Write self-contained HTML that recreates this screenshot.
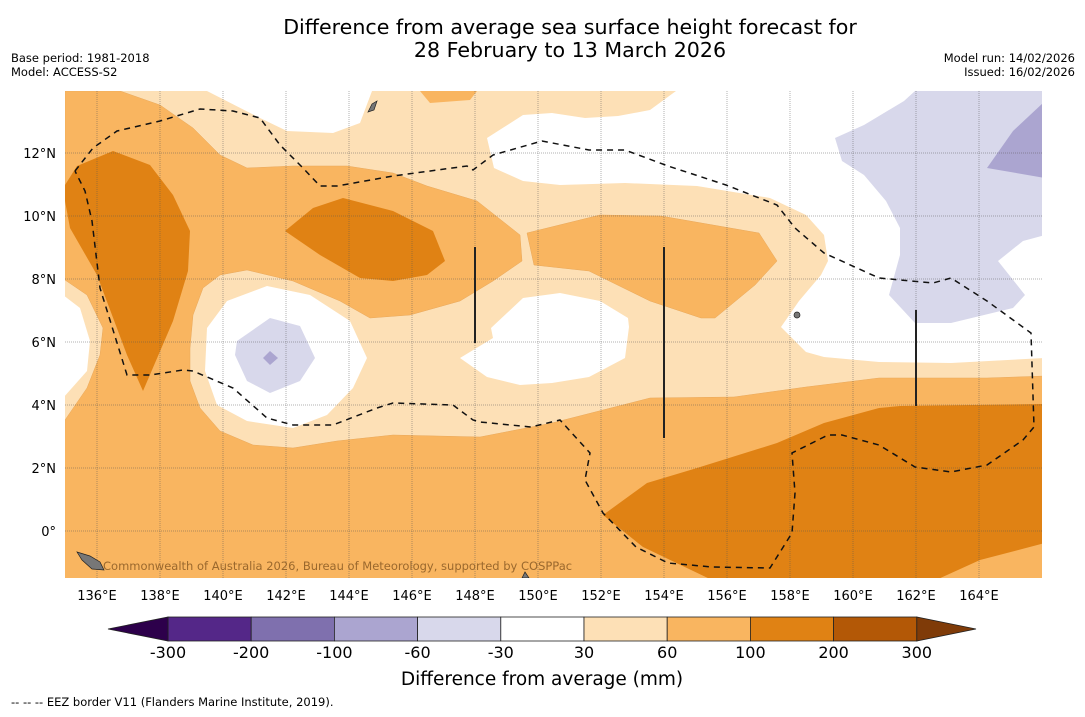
<!DOCTYPE html>
<html><head><meta charset="utf-8"><style>
body{margin:0;background:#fff;width:1085px;height:713px;overflow:hidden;font-family:"DejaVu Sans",sans-serif}
svg text{font-family:"DejaVu Sans","Liberation Sans",sans-serif}
</style></head><body>
<svg id="chart" width="1085" height="713" viewBox="0 0 1085 713">
<rect width="1085" height="713" fill="#fff"/>
<text x="570" y="34" text-anchor="middle" font-size="20.6">Difference from average sea surface height forecast for</text>
<text x="570" y="57" text-anchor="middle" font-size="20.6">28 February to 13 March 2026</text>
<text x="11" y="62" font-size="11.5">Base period: 1981-2018</text>
<text x="11" y="76" font-size="11.5">Model: ACCESS-S2</text>
<text x="1075" y="62" font-size="11.5" text-anchor="end">Model run: 14/02/2026</text>
<text x="1075" y="76" font-size="11.5" text-anchor="end">Issued: 16/02/2026</text>
<defs><clipPath id="mc"><rect x="65" y="91" width="977" height="487"/></clipPath></defs>
<g clip-path="url(#mc)">
<rect x="65" y="91" width="977" height="487" fill="#fde0b6"/>
<polygon fill="#f9b560" stroke="#e9a85a" stroke-width="0.5" points="65,91 120,91 160,105 193,128 220,155 247,168 293,166 347,166 393,173 427,186 477,201 520,235 522,261 493,281 460,301 410,315 370,318 340,301 293,281 247,270 220,275 203,288 193,315 190,348 190,381 200,408 220,431 253,445 293,448 337,441 393,435 480,437 552,423 650,398 734,397 806,387 879,378 987,378 1045,376 1045,580 63,580 65,420 87,388 100,355 103,328 87,295 65,280"/>
<polygon fill="#f9b560" points="420,91 477,91 470,100 430,103"/>
<polygon fill="#f9b560" stroke="#e9a85a" stroke-width="0.5" points="527,233 600,215 661,216 759,233 777,261 755,285 715,318 701,318 650,301 589,271 534,265"/>
<polygon fill="#fff" points="63,295 80,308 90,341 87,371 63,398"/>
<polygon fill="#fff" points="207,91 260,118 287,131 333,133 360,123 372,91"/>
<polygon fill="#fff" points="676,91 1045,91 1045,358 951,363 879,362 824,357 806,352 781,327 799,301 821,275 828,261 824,235 806,215 770,198 697,186 625,183 560,185 523,181 494,168 487,138 523,115 552,113 585,118 618,116 650,110"/>
<polygon fill="#fff" points="491,328 523,298 560,293 600,301 628,318 629,327 625,358 589,377 552,383 520,385 487,377 460,358 493,338"/>
<polygon fill="#fff" points="207,328 227,301 267,286 310,295 350,321 367,358 353,388 327,415 293,428 247,421 217,405 205,371"/>
<polygon fill="#d8d8eb" points="237,341 270,318 300,326 315,358 300,381 270,393 247,381 235,355"/>
<polygon fill="#aba5d0" points="270,351 278,358 270,365 263,358"/>
<polygon fill="#d8d8eb" points="835,138 864,125 904,101 915,91 1045,91 1045,235 1023,241 998,261 1025,295 1013,308 951,323 915,323 889,295 900,255 900,228 886,201 864,175 842,161"/>
<polygon fill="#aba5d0" points="987,168 1013,131 1045,101 1045,178"/>
<polygon fill="#e08214" points="65,185 77,166 113,151 150,165 173,195 190,231 188,271 173,321 143,391 127,355 97,275 70,228 65,201"/>
<polygon fill="#e08214" points="285,231 313,208 343,198 393,211 433,231 445,261 427,275 393,281 360,278 320,255"/>
<polygon fill="#e08214" points="603,515 647,483 697,468 777,443 824,423 879,408 900,406 1045,404 1045,543 980,560 936,580 712,580 643,547"/>
<g id="grid"></g>
<polyline fill="none" stroke="#111" stroke-width="1.5" stroke-dasharray="6,5" points="75,171 93,148 117,131 160,121 200,109 233,111 260,118 280,145 303,168 320,186 337,186 393,176 467,166 473,170 493,155 542,141 589,150 625,150 668,166 726,185 777,205 795,228 824,253 879,278 933,283 951,278 987,301 1031,333 1034,427 1023,440 987,465 951,472 915,467 879,445 842,435 828,435 792,453 795,493 792,533 770,568 712,567 668,563 636,547 603,513 585,480 590,453 560,420 531,427 480,422 473,420 453,405 393,403 377,408 333,425 293,425 267,418 233,388 193,371 183,370 150,375 127,375 100,288 92,221 85,191 75,171"/>
<g stroke="#222" stroke-width="2">
<line x1="475" y1="247" x2="475" y2="343"/><line x1="664" y1="247" x2="664" y2="438"/><line x1="916" y1="310" x2="916" y2="406"/></g>
<g fill="#777" stroke="#222" stroke-width="0.7">
<polygon points="368,112 372,104 377,101 374,110"/><polygon points="77,552 90,556 100,562 104,570 92,569 82,560"/><circle cx="797" cy="315" r="3"/><polygon points="522,578 525,572 529,578"/></g>
<text x="103" y="570" font-size="11.5" fill="#8a5a25" fill-opacity="0.85">Commonwealth of Australia 2026, Bureau of Meteorology, supported by COSPPac</text>
</g>
<g id="axes"></g>
<g id="cbar"></g>
<text x="542" y="685" text-anchor="middle" font-size="18.5">Difference from average (mm)</text>
<text x="11" y="706" font-size="11.5">--  --  -- EEZ border V11 (Flanders Marine Institute, 2019).</text>
</svg>
<script>
const lonTicks=[136,138,140,142,144,146,148,150,152,154,156,158,160,162,164];
const latTicks=[12,10,8,6,4,2,0];
const cbBounds=[-300,-200,-100,-60,-30,30,60,100,200,300];
const cbColors=["#542788","#7f70ae","#aba5d0","#d8d8eb","#ffffff","#fde0b6","#f9b560","#e08214","#b35806"];
const cbLeftColor="#2d004b", cbRightColor="#7f3b08";
const NS="http://www.w3.org/2000/svg";
function lonX(l){return 97+(l-136)*31.5;}
function latY(l){return 531-l*31.5;}
function mk(tag,attrs,parent){const e=document.createElementNS(NS,tag);for(const k in attrs)e.setAttribute(k,attrs[k]);parent.appendChild(e);return e;}
const grid=document.getElementById('grid'),axes=document.getElementById('axes'),cb=document.getElementById('cbar');
lonTicks.forEach(l=>{const x=lonX(l);
 const g=mk('line',{x1:x,y1:91,x2:x,y2:578,stroke:"#555","stroke-opacity":0.45,"stroke-width":1,"stroke-dasharray":"1,1"},grid);
 
 
 const t=mk('text',{x:x,y:600,"text-anchor":"middle","font-size":13},axes);t.textContent=l+"°E";
 
 
});
latTicks.forEach(l=>{const y=latY(l);
 const g=mk('line',{x1:65,y1:y,x2:1042,y2:y,stroke:"#555","stroke-opacity":0.45,"stroke-width":1,"stroke-dasharray":"1,1"},grid);
 
 
 const t=mk('text',{x:56,y:y+5,"text-anchor":"end","font-size":13},axes);t.textContent=l===0?"0°":l+"°N";
 
 
});
const cbX0=168,cbW=83.2,cbY=617,cbH=24;
cbColors.forEach((c,i)=>{
 const r=mk('rect',{x:cbX0+i*cbW,y:cbY,width:cbW,height:cbH,fill:c,stroke:"#222","stroke-width":0.8},cb);
 
 
});
const cbEnd=cbX0+cbColors.length*cbW;
const lt=mk('polygon',{points:`${cbX0},${cbY} ${cbX0},${cbY+cbH} 108,${cbY+cbH/2}`,fill:cbLeftColor,stroke:"#222","stroke-width":0.8},cb);


const rt=mk('polygon',{points:`${cbEnd},${cbY} ${cbEnd},${cbY+cbH} 976,${cbY+cbH/2}`,fill:cbRightColor,stroke:"#222","stroke-width":0.8},cb);


cbBounds.forEach((b,i)=>{
 const t=mk('text',{x:cbX0+i*cbW,y:658,"text-anchor":"middle","font-size":16},cb);t.textContent=b;
 
 
});
</script>
</body></html>
